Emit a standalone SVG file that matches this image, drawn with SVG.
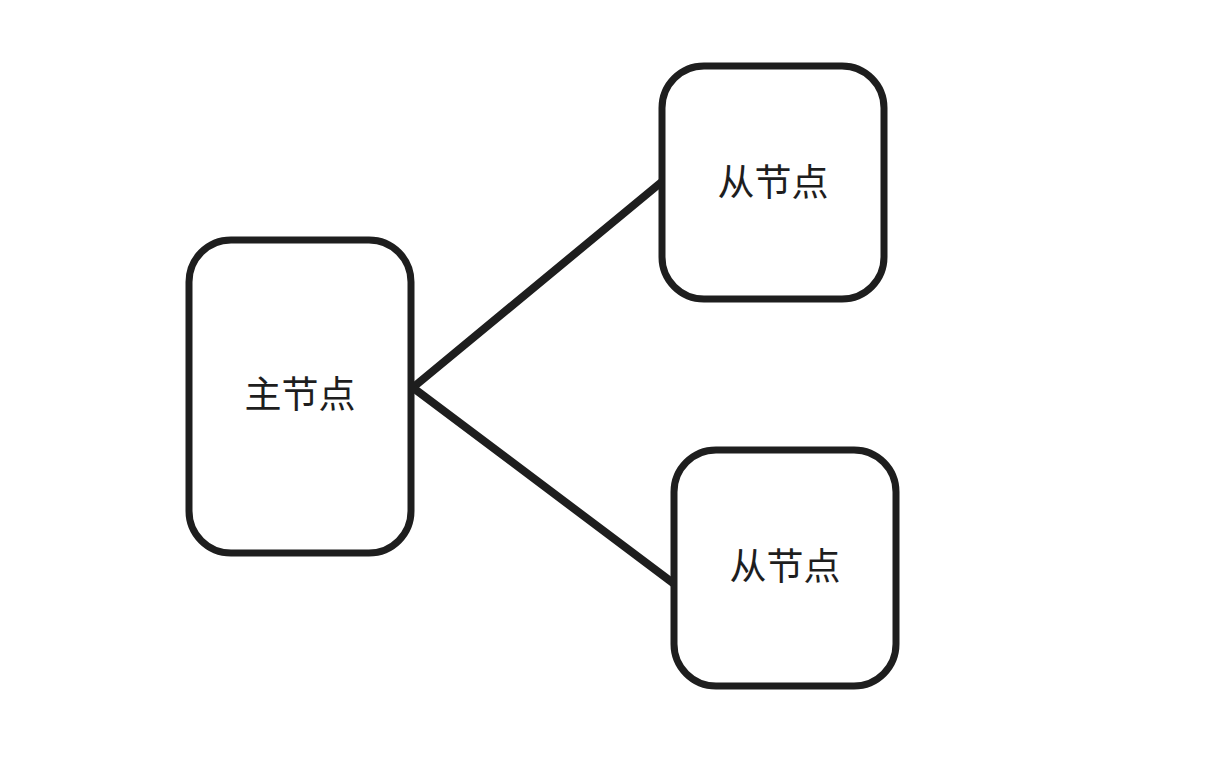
<svg xmlns="http://www.w3.org/2000/svg" width="1224" height="774" viewBox="0 0 1224 774">
<style>
.box{fill:#fff;stroke:#1e1e1e;stroke-width:7}
.t{font-family:"Noto Sans CJK SC",sans-serif;font-size:37px;fill:#1e1e1e;text-anchor:middle;dominant-baseline:central}
.c{stroke:#1e1e1e;stroke-width:8;stroke-linecap:round;fill:none}
</style>
<rect width="1224" height="774" fill="#fff"/>
<g id="connectors">
<path class="c" d="M416 385 L664 180"/>
<path class="c" d="M416 390 L677 586"/>
</g>
<g id="main"><rect class="box" x="189" y="240" width="222" height="313" rx="42"/><text class="t" x="300" y="392">主节点</text></g>
<g id="slave1"><rect class="box" x="662" y="66" width="222" height="233" rx="42"/><text class="t" x="773" y="180">从节点</text></g>
<g id="slave2"><rect class="box" x="674" y="450" width="222" height="236" rx="42"/><text class="t" x="785" y="564">从节点</text></g>
</svg>
